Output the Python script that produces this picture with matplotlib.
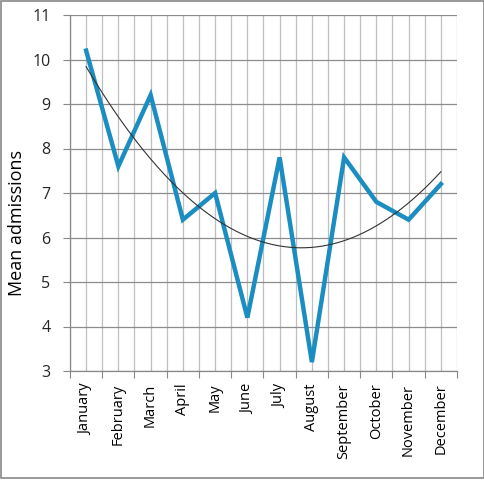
import matplotlib
matplotlib.use("Agg")
import matplotlib.pyplot as plt
import numpy as np
from matplotlib.patches import Rectangle

months = ["January", "February", "March", "April", "May", "June", "July",
          "August", "September", "October", "November", "December"]
admissions = [10.2, 7.6, 9.2, 6.4, 7.0, 4.2, 7.8, 3.2, 7.8, 6.8, 6.4, 7.2]
yticks = [3, 4, 5, 6, 7, 8, 9, 10, 11]

plt.rcParams['font.family'] = ['Open Sans', 'DejaVu Sans']

fig = plt.figure(figsize=(4.85, 4.8), dpi=100)
ax = fig.add_axes([70/485, 1-371/480, (457-70)/485, (371-15)/480])

x = np.arange(len(months))
ax.plot(x, admissions, color='#1B8DC1', lw=3.2, solid_joinstyle='miter', zorder=3)

coef = np.polyfit(x, admissions, 2)
xs = np.linspace(0, len(months)-1, 200)
ax.plot(xs, np.polyval(coef, xs), color='#333333', lw=0.8, zorder=4)

ax.set_xlim(-0.5, len(months)-0.5)
ax.set_ylim(yticks[0], yticks[-1])
ax.set_yticks(yticks)
ax.set_yticklabels([str(v) for v in yticks], fontsize=11.5, color='#262626')
ax.set_xticks(x)
ax.set_xticklabels(months, rotation=90, fontsize=10.5, color='#000000')
ax.set_xticks(np.arange(-0.5, len(months), 1.0), minor=True)
ax.tick_params(axis='x', which='major', length=0, pad=9)
ax.tick_params(axis='x', which='minor', length=5, color='#888888', width=0.8)
ax.tick_params(axis='y', length=5, color='#888888', width=0.8, pad=9)

for xv in np.arange(-0.5, len(months), 0.5):
    ax.axvline(xv, color='#BFBFBF', lw=0.9, zorder=1)
for yv in yticks:
    ax.axhline(yv, color='#8C8C8C', lw=0.9, zorder=1)

for s in ['top', 'right']:
    ax.spines[s].set_visible(False)
for s in ['left', 'bottom']:
    ax.spines[s].set_color('#888888')
    ax.spines[s].set_linewidth(0.9)

ax.set_ylabel("Mean admissions", fontsize=13)
ax.yaxis.set_label_coords(-0.114, 0.416)

fig.patches.append(Rectangle((0.5/485, 2/480), 483.5/485, 477/480, transform=fig.transFigure,
                             fill=False, edgecolor='#888888', lw=1.2))

fig.savefig("out.png", dpi=100)
